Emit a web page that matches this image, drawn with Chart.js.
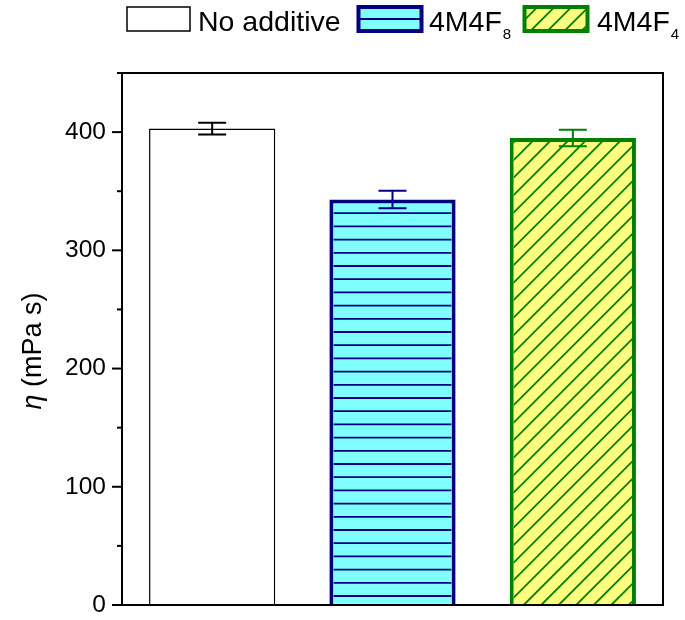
<!DOCTYPE html>
<html><head><meta charset="utf-8">
<script src="https://cdn.jsdelivr.net/npm/chart.js@4"></script>
<style>html,body{margin:0;padding:0;background:#fff}</style>
</head><body>
<canvas id="c" width="685" height="620"></canvas>
<script>
// ---- data ----
const categories = ['No additive', '4M4F8', '4M4F4'];
const legendMain = ['No additive', '4M4F', '4M4F'];
const legendSub = ['', '8', '4'];
const viscosity = [403, 343, 395];
const viscosityErr = [5, 7.5, 7];
const yTickLabels = [0, 100, 200, 300, 400];

// ---- styles ----
const FONT = '"Liberation Sans", Arial, sans-serif';
const fills = ['#ffffff', '#80ffff', '#ffff80'];
const edges = ['#000000', '#000080', '#008000'];
const edgeW = [1.5, 4, 4];

const hatchPlugin = {
  id: 'hatch',
  afterDatasetsDraw(chart) {
    const ctx = chart.ctx;
    const meta = chart.getDatasetMeta(0);
    meta.data.forEach((bar, i) => {
      const p = bar.getProps(['x', 'y', 'base', 'width'], true);
      const bw = edgeW[i];
      const l = p.x - p.width / 2 + bw, r = p.x + p.width / 2 - bw, t = p.y + bw, b = p.base;
      ctx.save();
      ctx.beginPath(); ctx.rect(l, t, r - l, b - t); ctx.clip();
      if (i === 1) {
        ctx.strokeStyle = edges[1]; ctx.lineWidth = 1.8;
        for (let y = b - 9; y > t - 2; y -= 13.2) {
          ctx.beginPath(); ctx.moveTo(l, y); ctx.lineTo(r, y); ctx.stroke();
        }
      } else if (i === 2) {
        ctx.strokeStyle = edges[2]; ctx.lineWidth = 1.8;
        const H = b - t + 20;
        for (let x0 = l - 4 + 14 - 17.5 * 30; x0 < r + 10; x0 += 17.5) {
          ctx.beginPath(); ctx.moveTo(x0, b); ctx.lineTo(x0 + H, b - H); ctx.stroke();
        }
      }
      ctx.restore();
    });
  }
};

const decorPlugin = {
  id: 'decor',
  afterDraw(chart) {
    const ctx = chart.ctx;
    const a = chart.chartArea;
    const ys = chart.scales.y;
    const xs = chart.scales.x;
    ctx.save();
    // frame
    ctx.strokeStyle = '#000'; ctx.lineWidth = 2;
    ctx.strokeRect(a.left, a.top, a.right - a.left, a.bottom - a.top);
    // y ticks (major outside 10px, minor 5px)
    ys.ticks.forEach(tk => {
      const y = ys.getPixelForValue(tk.value);
      const len = (tk.value % 100 === 0) ? 10 : 5;
      ctx.beginPath(); ctx.moveTo(a.left - len, y); ctx.lineTo(a.left, y); ctx.stroke();
    });
    // error bars
    viscosity.forEach((v, i) => {
      const x = xs.getPixelForValue(i);
      const yHi = ys.getPixelForValue(v + viscosityErr[i]);
      const yLo = ys.getPixelForValue(v - viscosityErr[i]);
      ctx.strokeStyle = edges[i]; ctx.lineWidth = 2;
      ctx.beginPath();
      ctx.moveTo(x, yHi); ctx.lineTo(x, yLo);
      ctx.moveTo(x - 14, yHi); ctx.lineTo(x + 14, yHi);
      ctx.moveTo(x - 14, yLo); ctx.lineTo(x + 14, yLo);
      ctx.stroke();
    });
    // y axis title
    ctx.save();
    ctx.translate(41, 351);
    ctx.rotate(-Math.PI / 2);
    ctx.fillStyle = '#000';
    ctx.textBaseline = 'alphabetic';
    const f1 = 'italic 27px ' + FONT, f2 = '27px ' + FONT;
    ctx.font = f1; const w1 = ctx.measureText('η').width;
    ctx.font = f2; const w2 = ctx.measureText(' (mPa s)').width;
    const x0 = -(w1 + w2) / 2;
    ctx.font = f1; ctx.textAlign = 'left'; ctx.fillText('η', x0, 0);
    ctx.font = f2; ctx.fillText(' (mPa s)', x0 + w1, 0);
    ctx.restore();
    // legend
    const boxes = [[127, 7], [358.5, 7], [524.5, 7]];
    const textX = [198, 429, 597];
    boxes.forEach(([bx, by], i) => {
      const w = 63, h = 24;
      ctx.save();
      ctx.fillStyle = fills[i];
      ctx.fillRect(bx, by, w, h);
      ctx.beginPath(); ctx.rect(bx, by, w, h); ctx.clip();
      if (i === 1) {
        ctx.strokeStyle = edges[1]; ctx.lineWidth = 2;
        ctx.beginPath(); ctx.moveTo(bx, by + h / 2); ctx.lineTo(bx + w, by + h / 2); ctx.stroke();
      } else if (i === 2) {
        ctx.strokeStyle = edges[2]; ctx.lineWidth = 1.8;
        for (let k = -2; k < 6; k++) {
          const xb = bx + 6 + k * 17;
          ctx.beginPath(); ctx.moveTo(xb, by + h); ctx.lineTo(xb + h + 4, by - 4); ctx.stroke();
        }
      }
      ctx.restore();
      ctx.strokeStyle = edges[i]; ctx.lineWidth = edgeW[i];
      ctx.strokeRect(bx, by, w, h);
      ctx.fillStyle = '#000';
      ctx.textAlign = 'left'; ctx.textBaseline = 'alphabetic';
      ctx.font = '28.5px ' + FONT;
      ctx.fillText(legendMain[i], textX[i], 31);
      const mw = ctx.measureText(legendMain[i]).width;
      if (legendSub[i]) {
        ctx.font = '15px ' + FONT;
        ctx.fillText(legendSub[i], textX[i] + mw + 1, 38.5);
      }
    });
    ctx.restore();
  }
};

new Chart(document.getElementById('c'), {
  type: 'bar',
  data: {
    labels: categories,
    datasets: [{
      data: viscosity,
      backgroundColor: fills,
      borderColor: edges,
      borderWidth: edgeW,
      barPercentage: 0.7,
      categoryPercentage: 1.0
    }]
  },
  options: {
    responsive: false,
    animation: false,
    devicePixelRatio: 1,
    layout: { padding: { top: 73, right: 22, bottom: 15, left: 0 } },
    plugins: { legend: { display: false }, tooltip: { enabled: false } },
    scales: {
      x: { display: false },
      y: {
        min: 0, max: 450,
        grid: { display: false, drawTicks: false },
        border: { display: false },
        afterFit(scale) {
          scale.width = 122;
          scale.paddingTop = 0;
          scale.paddingBottom = 0;
        },
        ticks: {
          stepSize: 50,
          autoSkip: false,
          padding: 16,
          color: '#000',
          font: { family: FONT, size: 24.5 },
          callback: v => (yTickLabels.includes(v) ? String(v) : '')
        }
      }
    }
  },
  plugins: [hatchPlugin, decorPlugin]
});
</script>
</body></html>
